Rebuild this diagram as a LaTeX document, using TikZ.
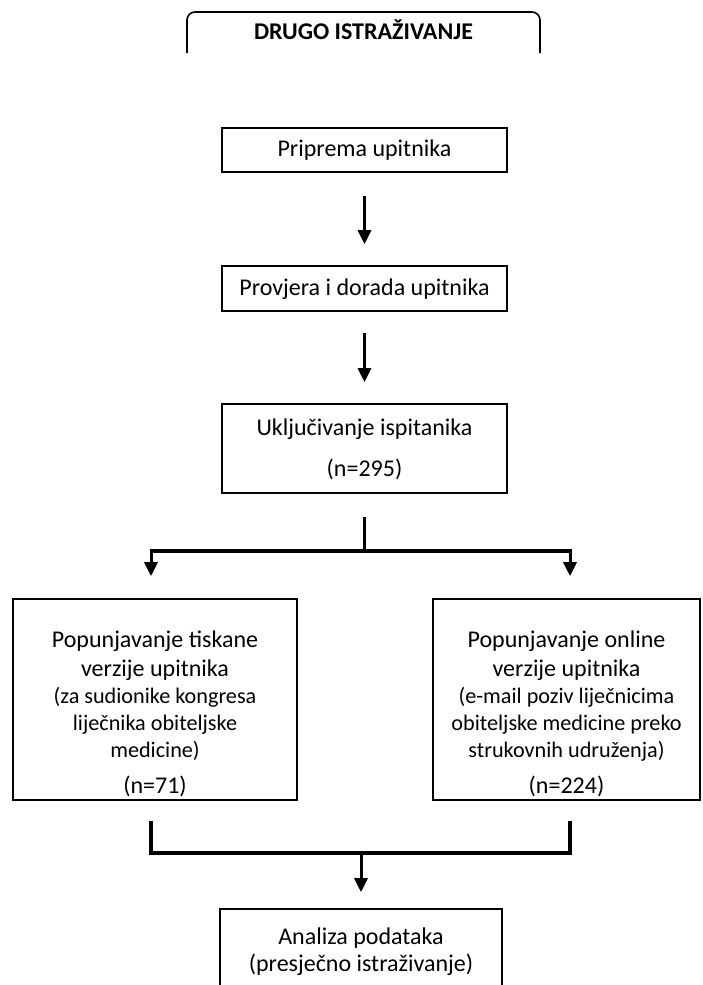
\documentclass[tikz,border=0pt]{standalone}
\usepackage{fontspec}
\setmainfont{Carlito}
\usetikzlibrary{arrows.meta,calc}
\begin{document}
\begin{tikzpicture}[x=1pt,y=-1pt,
  box/.style={draw,line width=1.6pt,inner sep=0pt},
  lbl/.style={inner sep=0pt,text height=17pt,text depth=5pt,font=\fontsize{24}{29}\selectfont},
  sml/.style={inner sep=0pt,text height=16pt,text depth=5pt,font=\fontsize{22.2}{27}\selectfont},
  arr/.style={line width=3pt,-{Triangle[length=14pt,width=13pt]}},
  branch/.style={line width=3.6pt,line join=miter}]
\path[use as bounding box,clip] (0,0) rectangle (703,985);
\fill[white] (0,0) rectangle (703,985);
% title tab
\draw[line width=1.6pt,rounded corners=8pt] (187,53) -- (187,12) -- (540,12) -- (540,53);
\node[lbl,font=\fontsize{24}{29}\selectfont\bfseries] (title) at (363.5,33) {DRUGO ISTRAŽIVANJE};
% boxes
\node[box,minimum width=285pt,minimum height=44pt] (b1) at (364.5,150) {};
\node[box,minimum width=285pt,minimum height=45pt] (b2) at (364.5,288.5) {};
\node[box,minimum width=285pt,minimum height=89pt] (b3) at (364.5,448.5) {};
\node[box,minimum width=284pt,minimum height=201pt] (lb) at (155,699.5) {};
\node[box,minimum width=267pt,minimum height=201pt] (rb) at (566.5,699.5) {};
\node[box,minimum width=282pt,minimum height=110pt] (bb) at (361,964) {};
% texts
\node[lbl] (t1) at (364.5,150) {Priprema upitnika};
\node[lbl] (t2) at (364.5,289) {Provjera i dorada upitnika};
\node[lbl] (t3a) at (364.5,429) {Uključivanje ispitanika};
\node[lbl] (t3b) at (364.5,470) {(n=295)};
\node[lbl] (l1) at (155,641) {Popunjavanje tiskane};
\node[lbl] (l2) at (155,670) {verzije upitnika};
\node[sml] (l3) at (155,698) {(za sudionike kongresa};
\node[sml] (l4) at (155,725) {liječnika obiteljske};
\node[sml] (l5) at (155,752) {medicine)};
\node[lbl] (l6) at (155,787) {(n=71)};
\node[lbl] (r1) at (566.5,641) {Popunjavanje online};
\node[lbl] (r2) at (566.5,670) {verzije upitnika};
\node[sml] (r3) at (566.5,698) {(e-mail poziv liječnicima};
\node[sml] (r4) at (566.5,725) {obiteljske medicine preko};
\node[sml] (r5) at (566.5,752) {strukovnih udruženja)};
\node[lbl] (r6) at (566.5,787) {(n=224)};
\node[lbl] (bt1) at (361,938) {Analiza podataka};
\node[lbl] (bt2) at (361,965) {(presječno istraživanje)};
% connectors
\draw[arr,shorten <=23pt,shorten >=21pt] (b1.south) -- (b2.north);
\draw[arr,shorten <=21pt,shorten >=21pt] (b2.south) -- (b3.north);
\coordinate (split) at (364.5,551);
\coordinate (merge) at (361,853);
\draw[branch] ([yshift=-23pt]b3.south) -- (split);
\draw[branch] (split) -- (151,551) coordinate (lc);
\draw[branch] (split) -- (570,551) coordinate (rc);
\draw[arr,shorten >=22pt] ([yshift=1.8pt]lc) -- (lc |- lb.north);
\draw[arr,shorten >=22pt] ([yshift=1.8pt]rc) -- (rc |- rb.north);
\draw[branch] ([yshift=-20pt]lb.south -| lc) |- (merge) -| ([yshift=-20pt]rb.south -| rc);
\draw[arr,shorten >=16pt] ([yshift=1.8pt]merge) -- (bb.north);
\end{tikzpicture}
\end{document}
